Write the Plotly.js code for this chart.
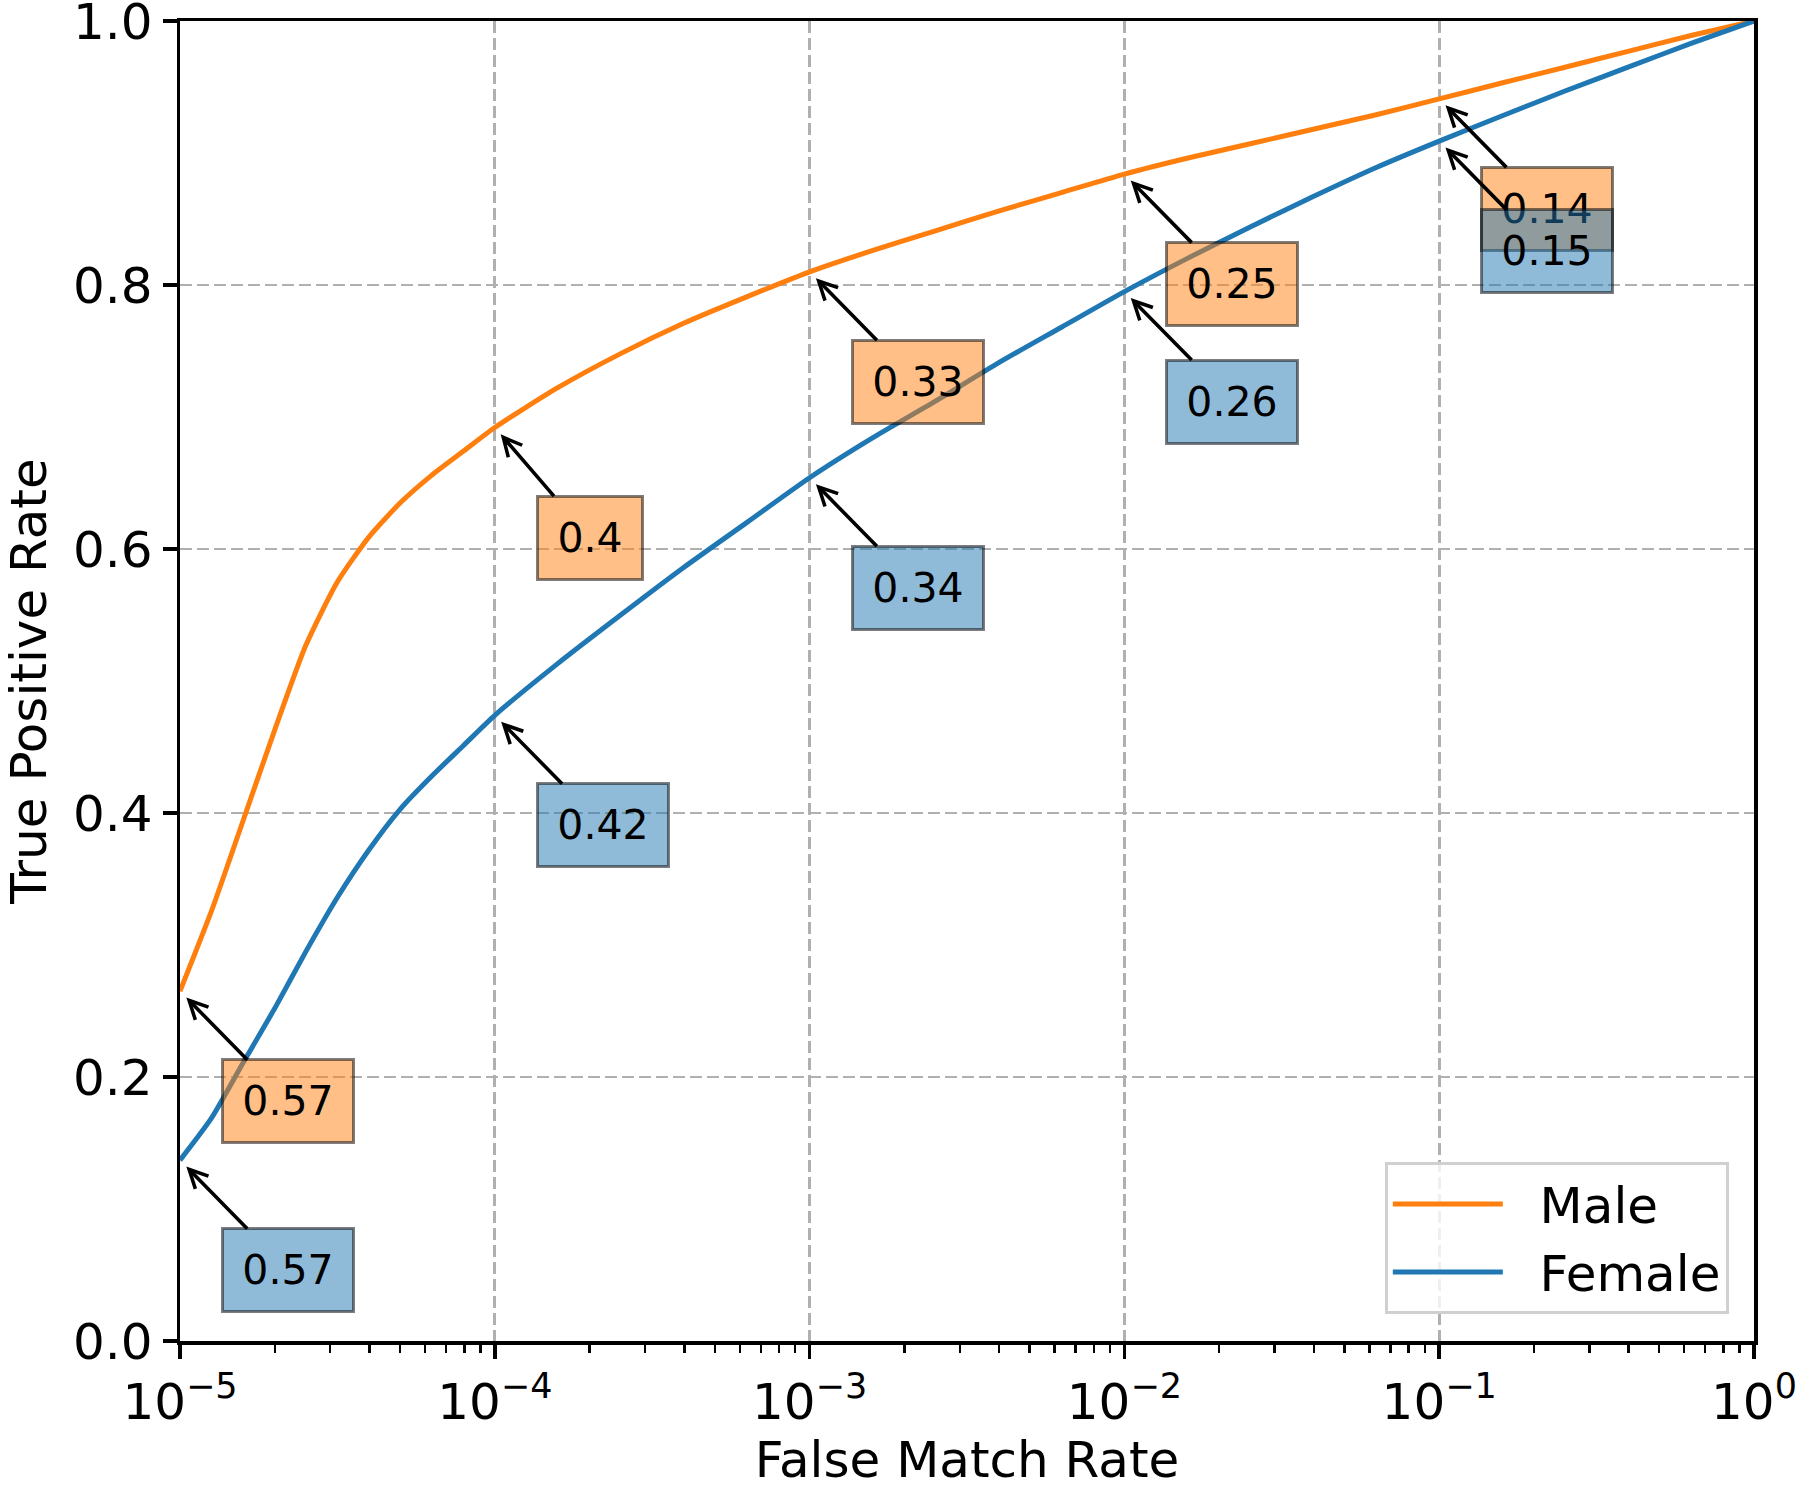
<!DOCTYPE html>
<html>
<head>
<meta charset="utf-8">
<script src="https://cdn.plot.ly/plotly-3.0.1.min.js"></script>
<style>
  body { margin: 0; background: #fff; }
  #plot { width: 1800px; height: 1500px; }
</style>
</head>
<body>
<div id="plot"></div>
<script>
// ROC curves (FMR on log scale, TPR)
var fmr = [1e-5, 1.26e-5, 1.58e-5, 2.0e-5, 2.51e-5, 3.16e-5, 3.98e-5, 5.01e-5, 6.31e-5, 7.94e-5,
  1e-4, 1.58e-4, 2.51e-4, 3.98e-4, 6.31e-4, 1e-3, 1.58e-3, 2.51e-3, 3.98e-3, 6.31e-3,
  1e-2, 1.58e-2, 2.51e-2, 3.98e-2, 6.31e-2, 0.1, 0.158, 0.251, 0.398, 0.631, 1];
var tprMale = [0.265, 0.326, 0.393, 0.463, 0.527, 0.575, 0.609, 0.635, 0.656, 0.674,
  0.692, 0.722, 0.748, 0.771, 0.791, 0.810, 0.826, 0.841, 0.856, 0.870,
  0.884, 0.896, 0.907, 0.918, 0.929, 0.941, 0.953, 0.965, 0.977, 0.989, 1.0];
var tprFemale = [0.137, 0.169, 0.210, 0.252, 0.295, 0.336, 0.372, 0.403, 0.428, 0.451,
  0.474, 0.513, 0.550, 0.586, 0.620, 0.654, 0.684, 0.712, 0.741, 0.768,
  0.795, 0.820, 0.844, 0.867, 0.889, 0.909, 0.928, 0.947, 0.965, 0.983, 1.0];

// labelled operating points
var markFmr = [1e-5, 1e-4, 1e-3, 1e-2, 1e-1];
var labelsMale = ['0.57', '0.4', '0.33', '0.25', '0.14'];
var labelsFemale = ['0.57', '0.42', '0.34', '0.26', '0.15'];

var xTickVals = [1e-5, 1e-4, 1e-3, 1e-2, 1e-1, 1];
var xTickText = ['10<sup>\u22125</sup>', '10<sup>\u22124</sup>', '10<sup>\u22123</sup>',
  '10<sup>\u22122</sup>', '10<sup>\u22121</sup>', '10<sup>0</sup>'];
var yTickVals = [0, 0.2, 0.4, 0.6, 0.8, 1.0];
var yTickText = ['0.0', '0.2', '0.4', '0.6', '0.8', '1.0'];

var FONT = 'DejaVu Sans, Liberation Sans, sans-serif';

// minor ticks 2..9 in every decade
var minorVals = [];
for (var d = -5; d < 0; d++) {
  for (var k = 2; k < 10; k++) minorVals.push(k * Math.pow(10, d));
}

function boxNotes(tpr, labels, fill) {
  return markFmr.map(function (x, i) {
    var txt = labels[i];
    return {
      x: Math.log10(x), y: tpr[fmr.indexOf(x)],
      xref: 'x', yref: 'y',
      text: txt,
      showarrow: true, arrowhead: 5, arrowsize: 1.0, arrowwidth: 3.6, arrowcolor: 'black',
      ax: 108 - 13 * (4 - txt.length), ay: 110,
      standoff: 9,
      font: { family: FONT, size: 41, color: 'black' },
      bgcolor: fill, bordercolor: 'rgba(0,0,0,0.5)', borderwidth: 3, borderpad: 16,
      width: 26 * txt.length - 8, height: 48
    };
  });
}

var traces = [
  { name: '\u00a0\u00a0Male', x: fmr, y: tprMale, type: 'scatter', mode: 'lines',
    line: { color: '#ff7f0e', width: 5, shape: 'spline', smoothing: 0.6 } },
  { name: '\u00a0\u00a0Female', x: fmr, y: tprFemale, type: 'scatter', mode: 'lines',
    line: { color: '#1f77b4', width: 5, shape: 'spline', smoothing: 0.6 } }
];

var gridStyle = { gridcolor: '#b0b0b0', gridwidth: 2.8, griddash: '12px,5px' };

var layout = {
  width: 1800, height: 1500,
  margin: { l: 180, r: 46, t: 21, b: 159 },
  paper_bgcolor: 'white', plot_bgcolor: 'white',
  font: { family: FONT, size: 50, color: 'black' },
  showlegend: true,
  xaxis: Object.assign({
    type: 'log', range: [-5, 0],
    tickmode: 'array', tickvals: xTickVals, ticktext: xTickText,
    ticks: 'outside', ticklen: 14, tickwidth: 3.5, tickcolor: 'black',
    minor: { tickmode: 'array', tickvals: minorVals, ticks: 'outside', ticklen: 8,
      tickwidth: 2.5, tickcolor: 'black', showgrid: false },
    showline: true, linecolor: 'black', linewidth: 3.5, mirror: true,
    zeroline: false, showgrid: true, ticklabeloverflow: 'allow',
    tickfont: { size: 50 },
    title: { text: 'False Match Rate', font: { size: 50 }, standoff: 8 }
  }, gridStyle),
  yaxis: Object.assign({
    range: [0, 1],
    tickmode: 'array', tickvals: yTickVals, ticktext: yTickText,
    ticks: 'outside', ticklen: 14, tickwidth: 3.5, tickcolor: 'black',
    showline: true, linecolor: 'black', linewidth: 3.5, mirror: true,
    zeroline: false, showgrid: true, ticklabeloverflow: 'allow',
    tickfont: { size: 50 },
    title: { text: 'True Positive Rate', font: { size: 50 }, standoff: 20 }
  }, gridStyle),
  legend: {
    x: 0.984, xanchor: 'right', y: 0.0205, yanchor: 'bottom',
    bgcolor: 'rgba(255,255,255,0.8)', bordercolor: '#d0d0d0', borderwidth: 3,
    font: { size: 50 }, itemwidth: 110
  },
  annotations: boxNotes(tprMale, labelsMale, 'rgba(255,127,14,0.5)')
    .concat(boxNotes(tprFemale, labelsFemale, 'rgba(31,119,180,0.5)'))
};

Plotly.newPlot('plot', traces, layout, { displayModeBar: false, staticPlot: true });
</script>
</body>
</html>
